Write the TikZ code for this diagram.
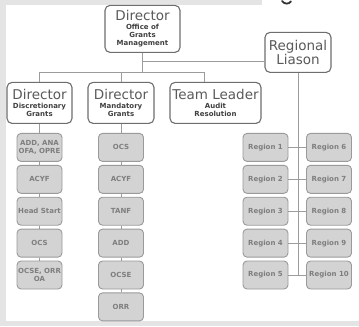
\documentclass[tikz,border=0pt]{standalone}
\usepackage{fontspec}
\setmainfont{DejaVu Sans}
\usetikzlibrary{positioning}

\definecolor{bggray}{HTML}{E4E4E4}
\definecolor{boxgray}{HTML}{D3D3D3}
\definecolor{unitline}{HTML}{9A9A9A}
\definecolor{unittext}{HTML}{7E7E7E}
\definecolor{headline}{HTML}{6E6E6E}
\definecolor{titlegray}{HTML}{5A5A5A}
\definecolor{subgray}{HTML}{404040}
\definecolor{linkgray}{HTML}{9C9C9C}

\newcommand{\ttl}[1]{{\fontsize{13.5}{14}\selectfont\mdseries\color{titlegray}#1}}

\begin{document}
\begin{tikzpicture}[x=1pt,y=1pt]
\tikzstyle{head}=[draw=headline,fill=white,line width=1.1pt,rounded corners=5pt,align=center,text=subgray,inner sep=1pt,font=\fontsize{7}{8}\selectfont\bfseries]
\tikzstyle{unit}=[draw=unitline,fill=boxgray,line width=0.9pt,rounded corners=4pt,align=center,minimum width=45pt,minimum height=28pt,inner sep=1pt,text=unittext,font=\fontsize{7}{7.4}\selectfont\bfseries]
\tikzstyle{link}=[draw=linkgray,line width=1pt]

% background
\fill[bggray] (0,0) rectangle (359,-326);
\fill[white] (6,-5) rectangle (359,-321);
\fill[white] (262,0) rectangle (359,-5);
\draw[line width=1.8pt,line cap=round,black!80] (282,-0.5) .. controls (284,-4) and (289,-4) .. (291,-1);
\useasboundingbox (0,0) rectangle (359,-326);

% Headers
\node[head,minimum width=75pt,minimum height=47pt] (dir) at (142.5,-28.5) {\ttl{Director}\\[1pt]Office of\\Grants\\Management};
\node[head,minimum width=66pt,minimum height=40pt,font=\fontsize{13.5}{14}\selectfont,text=titlegray] (rl) at (298,-52) {Regional\\Liason};
\node[head,minimum width=65pt,minimum height=41pt] (dg) at (39.5,-102.5) {\ttl{Director}\\[1pt]Discretionary\\Grants};
\node[head,minimum width=66pt,minimum height=41pt] (mg) at (121,-102.5) {\ttl{Director}\\[1pt]Mandatory\\Grants};
\node[head,minimum width=91pt,minimum height=41pt] (tl) at (215.5,-102.5) {\ttl{Team Leader}\\[1pt]Audit\\Resolution};

% Discretionary units
\node[unit,below of=dg,node distance=44.5pt] (d1) {ADD, ANA\\OFA, OPRE};
\node[unit,below of=d1,node distance=31.9pt] (d2) {ACYF};
\node[unit,below of=d2,node distance=31.9pt] (d3) {Head Start};
\node[unit,below of=d3,node distance=31.9pt] (d4) {OCS};
\node[unit,below of=d4,node distance=31.9pt] (d5) {OCSE, ORR\\OA};

% Mandatory units
\node[unit,below of=mg,node distance=44.5pt] (m1) {OCS};
\node[unit,below of=m1,node distance=31.9pt] (m2) {ACYF};
\node[unit,below of=m2,node distance=31.9pt] (m3) {TANF};
\node[unit,below of=m3,node distance=31.9pt] (m4) {ADD};
\node[unit,below of=m4,node distance=31.9pt] (m5) {OCSE};
\node[unit,below of=m5,node distance=31.9pt] (m6) {ORR};

% Regions
\node[unit] (r1) at (265.5,-147) {Region 1};
\node[unit,right of=r1,node distance=63.5pt] (r6) {Region 6};
\foreach \i [count=\p from 1] in {2,...,5}{
  \pgfmathtruncatemacro{\j}{\i+5}
  \pgfmathtruncatemacro{\q}{\p+5}
  \node[unit,below of=r\p,node distance=31.9pt] (r\i) {Region \i};
  \node[unit,below of=r\q,node distance=31.9pt] (r\j) {Region \j};
}

% Links
\coordinate (bar) at ([yshift=-20pt]dir.south);
\coordinate (j1) at ([yshift=-9pt]dir.south);
\coordinate (spine) at (rl.south |- r5.east);
\draw[link] (dir.south) -- (bar);
\draw[link] (j1) -- (j1 -| rl.west);
\draw[link] (dg.north) |- (bar) -| (mg.north);
\draw[link] (bar) -| ([xshift=-11.5pt]tl.north);
\draw[link] (rl.south) -- (spine);

\draw[link] (dg.south) -- (d1.north);
\foreach \a/\b in {d1/d2,d2/d3,d3/d4,d4/d5,m1/m2,m2/m3,m3/m4,m4/m5,m5/m6}
  \draw[link] (\a.south) -- (\b.north);
\draw[link] (mg.south) -- (m1.north);
\foreach \i [evaluate=\i as \j using int(\i+5)] in {1,...,5}
  \draw[link] (r\i.east) -- (r\j.west);
\end{tikzpicture}
\end{document}
